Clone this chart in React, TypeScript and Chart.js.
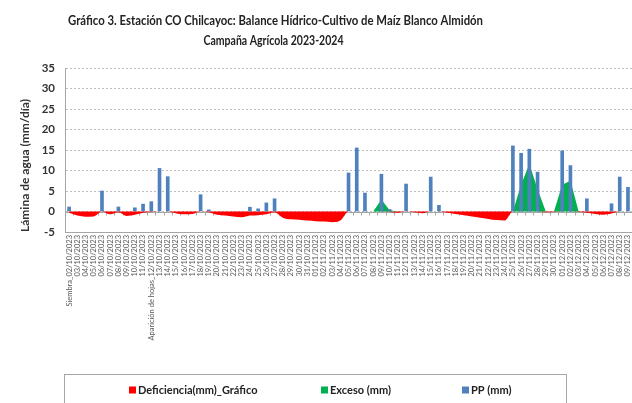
import React, { useEffect, useRef } from 'react';
import { Chart, registerables } from 'chart.js';

Chart.register(...registerables);

const FONT = 'Lato, "Open Sans", sans-serif';

const titleLines = [
  'Gráfico 3. Estación CO Chilcayoc: Balance Hídrico-Cultivo de Maíz Blanco Almidón',
  'Campaña Agrícola 2023-2024',
];

const yAxisTitle = 'Lámina de agua (mm/día)';

const dates = [
  'Siembra_02/10/2023', '03/10/2023', '04/10/2023', '05/10/2023', '06/10/2023', '07/10/2023',
  '08/10/2023', '09/10/2023', '10/10/2023', '11/10/2023', 'Aparición de hojas_12/10/2023',
  '13/10/2023', '14/10/2023', '15/10/2023', '16/10/2023', '17/10/2023', '18/10/2023',
  '19/10/2023', '20/10/2023', '21/10/2023', '22/10/2023', '23/10/2023', '24/10/2023',
  '25/10/2023', '26/10/2023', '27/10/2023', '28/10/2023', '29/10/2023', '30/10/2023',
  '31/10/2023',
  '01/11/2023', '02/11/2023', '03/11/2023', '04/11/2023', '05/11/2023', '06/11/2023',
  '07/11/2023', '08/11/2023', '09/11/2023', '10/11/2023', '11/11/2023', '12/11/2023',
  '13/11/2023', '14/11/2023', '15/11/2023', '16/11/2023', '17/11/2023', '18/11/2023',
  '19/11/2023', '20/11/2023', '21/11/2023', '22/11/2023', '23/11/2023', '24/11/2023',
  '25/11/2023', '26/11/2023', '27/11/2023', '28/11/2023', '29/11/2023', '30/11/2023',
  '01/12/2023', '02/12/2023', '03/12/2023', '04/12/2023', '05/12/2023', '06/12/2023',
  '07/12/2023', '08/12/2023', '09/12/2023',
];

// PP (mm)
const pp: (number | null)[] = [
  1.1, null, null, null, 5.0, null, 1.1, null, 0.9, 1.8, 2.4,
  10.5, 8.5, null, null, null, 4.1, 0.4, null, null, null, null, 1.05,
  0.65, 2.1, 3.1, null, null, null, null,
  null, null, null, null, 9.4, 15.5, 4.5, null, 9.1, 0.5, null, 6.7,
  null, null, 8.4, 1.5, null, null, null, null, null, null, null, null,
  16.0, 14.2, 15.2, 9.6, null, null,
  14.8, 11.2, null, 3.1, null, null, 1.9, 8.4, 5.9,
];

// Deficiencia(mm)_Gráfico
const deficiencia = [
  -0.3, -1.0, -1.3, -1.2, 0, -0.7, -0.2, -1.1, -0.8, -0.3, -0.1,
  0, 0, -0.4, -0.7, -0.6, 0, -0.2, -0.8, -1.0, -1.2, -1.4, -1.0,
  -0.9, -0.7, -0.2, -1.5, -1.9, -2.0, -2.2,
  -2.35, -2.45, -2.6, -2.2, 0, 0, 0, 0, 0, -0.1, -0.3, 0,
  -0.2, -0.4, 0, 0, -0.3, -0.6, -0.9, -1.2, -1.5, -1.8, -2.1, -2.2,
  0, 0, 0, 0, -0.2, -0.1,
  0, 0, -0.1, -0.3, -0.6, -0.8, -0.5, 0, 0,
];

// Exceso (mm)
const exceso = [
  0, 0, 0, 0, 0, 0, 0, 0, 0, 0, 0,
  0, 0, 0, 0, 0, 0, 0, 0, 0, 0, 0, 0,
  0, 0, 0, 0, 0, 0, 0,
  0, 0, 0, 0, 0, 0, 0, 0, 2.9, 0.3, 0, 0,
  0, 0, 0, 0, 0, 0, 0, 0, 0, 0, 0, 0,
  0, 6.5, 11.6, 5.5, 0, 0,
  6.5, 7.5, 0, 0, 0, 0, 0, 0, 0,
];

const legendLabels = ['Deficiencia(mm)_Gráfico', 'Exceso (mm)', 'PP (mm)'];
const colors = { deficiencia: '#FF0000', exceso: '#00B050', pp: '#4F81BD' };

function fitText(ctx: any, text: string, cx: number, cy: number, width: number) {
  const w = ctx.measureText(text).width;
  const sx = width / w;
  ctx.save();
  ctx.translate(cx, cy);
  ctx.scale(sx, 1);
  ctx.fillText(text, 0, 0);
  ctx.restore();
}

const titlePlugin = {
  id: 'customTitle',
  afterDraw(chart: any) {
    const ctx = chart.ctx;
    ctx.save();
    ctx.fillStyle = '#222';
    ctx.textAlign = 'center';
    ctx.textBaseline = 'middle';
    ctx.font = `bold 13px ${FONT}`;
    fitText(ctx, titleLines[0], 275.5, 21, 415);
    fitText(ctx, titleLines[1], 273.5, 41, 140);
    ctx.restore();
  },
};

const zeroAxisPlugin = {
  id: 'zeroAxis',
  beforeDatasetsDraw(chart: any) {
    const { ctx, chartArea, scales } = chart;
    const y0 = Math.round(scales.y.getPixelForValue(0)) + 0.5;
    ctx.save();
    ctx.strokeStyle = '#A6A6A6';
    ctx.lineWidth = 1;
    ctx.beginPath();
    ctx.moveTo(chartArea.left, y0);
    ctx.lineTo(chartArea.right, y0);
    const n = dates.length;
    const step = (chartArea.right - chartArea.left) / n;
    for (let i = 0; i <= n; i++) {
      const x = Math.round(chartArea.left + i * step) + 0.5;
      ctx.moveTo(x, y0);
      ctx.lineTo(x, y0 + 3);
    }
    ctx.stroke();
    ctx.restore();
  },
};

const legendItemsX = [129, 321, 462];
const legendColors = [colors.deficiencia, colors.exceso, colors.pp];

const legendPlugin = {
  id: 'customLegend',
  afterDraw(chart: any) {
    const ctx = chart.ctx;
    ctx.save();
    ctx.strokeStyle = '#A6A6A6';
    ctx.lineWidth = 1;
    ctx.strokeRect(64.5, 374.5, 502, 40);
    ctx.font = `bold 11px ${FONT}`;
    ctx.textBaseline = 'middle';
    ctx.textAlign = 'left';
    const yc = 390;
    legendLabels.forEach((label, i) => {
      ctx.fillStyle = legendColors[i];
      ctx.fillRect(legendItemsX[i], yc - 3.5, 7, 7);
      ctx.fillStyle = '#222';
      ctx.fillText(label, legendItemsX[i] + 9, yc + 0.5);
    });
    ctx.restore();
  },
};

export default function App() {
  const ref = useRef<HTMLCanvasElement | null>(null);

  useEffect(() => {
    if (!ref.current) return;
    const chart = new Chart(ref.current, {
      type: 'bar',
      data: {
        labels: dates,
        datasets: [
          {
            type: 'line',
            label: legendLabels[0],
            data: deficiencia,
            backgroundColor: colors.deficiencia,
            borderColor: colors.deficiencia,
            borderWidth: 0,
            pointRadius: 0,
            fill: 'origin',
            cubicInterpolationMode: 'monotone',
            order: 2,
          } as any,
          {
            type: 'line',
            label: legendLabels[1],
            data: exceso,
            backgroundColor: colors.exceso,
            borderColor: colors.exceso,
            borderWidth: 0,
            pointRadius: 0,
            fill: 'origin',
            tension: 0,
            order: 1,
          } as any,
          {
            type: 'bar',
            label: legendLabels[2],
            data: pp,
            backgroundColor: colors.pp,
            barThickness: 3,
            order: 0,
          } as any,
        ],
      },
      options: {
        responsive: false,
        animation: false,
        devicePixelRatio: 1,
        layout: { padding: { top: 68, left: 0, right: 6, bottom: 41 } },
        plugins: {
          legend: { display: false },
          title: { display: false },
          tooltip: { enabled: false },
        },
        scales: {
          x: {
            offset: true,
            grid: { display: false, drawTicks: false },
            border: { display: true, color: '#A6A6A6' },
            ticks: {
              autoSkip: false,
              maxRotation: 90,
              minRotation: 90,
              padding: 3,
              color: '#595959',
              font: { family: FONT, size: 7.5 },
            },
            afterFit: (s: any) => {
              s.height = 130;
            },
          },
          y: {
            min: -5,
            max: 35,
            ticks: {
              stepSize: 5,
              padding: 10,
              color: '#333',
              font: { family: FONT, size: 11.5, weight: 'bold' },
            },
            grid: { color: '#BFBFBF', drawTicks: false, lineWidth: 1 },
            border: { display: true, color: '#A6A6A6', dash: [2, 2] },
            title: {
              display: true,
              text: yAxisTitle,
              align: 'start',
              color: '#333',
              padding: { top: 18, bottom: 0 },
              font: { family: FONT, size: 12, weight: 'bold' },
            },
            afterFit: (s: any) => {
              s.width = 65;
            },
          },
        },
      } as any,
      plugins: [zeroAxisPlugin, titlePlugin, legendPlugin],
    });
    return () => chart.destroy();
  }, []);

  return (
    <div style={{ position: 'absolute', left: 0, top: 0, width: 632, height: 403, overflow: 'hidden', background: '#fff' }}>
      <canvas ref={ref} width={640} height={403} style={{ display: 'block' }} />
    </div>
  );
}
